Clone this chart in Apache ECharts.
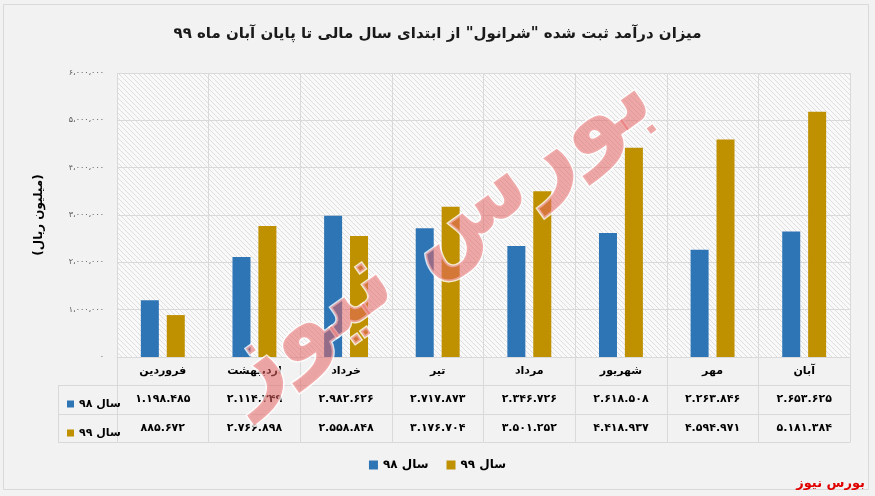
<!DOCTYPE html>
<html>
<head>
<meta charset="utf-8">
<script src="https://cdn.jsdelivr.net/npm/echarts@6/dist/echarts.min.js"></script>
<style>
html,body{margin:0;padding:0;background:#f2f2f2;}
#c{width:875px;height:496px;}
</style>
</head>
<body>
<div id="c"></div>
<script>
const title = 'میزان درآمد ثبت شده "شرانول" از ابتدای سال مالی تا پایان آبان ماه ۹۹';
const yName = '(میلیون ریال)';
const categories = ['فروردین','اردیبهشت','خرداد','تیر','مرداد','شهریور','مهر','آبان'];
const seriesNames = ['سال ۹۸','سال ۹۹'];
const s98 = [1198485, 2114349, 2982626, 2717873, 2346726, 2618508, 2263846, 2653625];
const s99 = [885672, 2766898, 2558848, 3176704, 3501252, 4418937, 4594971, 5181384];
const yTicks = {min: 0, max: 6000000, interval: 1000000};
const sourceText = 'بورس نیوز';
const watermarkText = 'بورس نیوز';

const FONT = 'Tahoma, "DejaVu Sans", sans-serif';
const fa = '۰۱۲۳۴۵۶۷۸۹';
function toFa(s){ return String(s).replace(/[0-9]/g, d => fa[+d]); }
function groupNum(n, sep){
  return toFa(String(n).replace(/\B(?=(\d{3})+(?!\d))/g, sep));
}

// diagonal hatch pattern
const P = 5;
const pc = document.createElement('canvas');
pc.width = P; pc.height = P;
const px = pc.getContext('2d');
px.fillStyle = '#f9f9f9'; px.fillRect(0,0,P,P);
px.fillStyle = '#dedede';
for (let i = 0; i < P; i++) px.fillRect(i, i, 1, 1);

const chart = echarts.init(document.getElementById('c'));
const lineColor = '#d9d9d9';
const hAxis = (off) => ({
  type: 'category', data: categories, position: 'bottom', offset: off,
  axisLine: {show: true, lineStyle: {color: lineColor}},
  axisTick: {show: false}, axisLabel: {show: false}, splitLine: {show: false}
});

chart.setOption({
  backgroundColor: '#f2f2f2',
  animation: false,
  textStyle: {fontFamily: FONT},
  title: {
    text: title, left: 'center', top: 22,
    textStyle: {fontFamily: FONT, fontSize: 15, fontWeight: 'bold', color: '#1a1a1a'}
  },
  grid: {
    left: 117, right: 25, top: 73, bottom: 139,
    show: true, borderWidth: 0,
    backgroundColor: {image: pc, repeat: 'repeat'}
  },
  legend: [
    {
      data: seriesNames, bottom: 20, left: 'center', itemGap: 18,
      itemWidth: 9, itemHeight: 9, icon: 'rect',
      textStyle: {fontFamily: FONT, fontSize: 12, fontWeight: 'bold', color: '#000'}
    },
    {
      data: seriesNames, orient: 'vertical', left: 62, top: 392, itemGap: 15,
      itemWidth: 7, itemHeight: 7, icon: 'rect', selectedMode: false,
      textStyle: {fontFamily: FONT, fontSize: 11, fontWeight: 'bold', color: '#000', lineHeight: 14}
    }
  ],
  xAxis: [
    {
      type: 'category', data: categories,
      axisLine: {show: true, lineStyle: {color: lineColor}},
      axisTick: {show: true, interval: 0, length: 85, lineStyle: {color: lineColor}},
      splitLine: {show: true, interval: 0, lineStyle: {color: lineColor}},
      axisLabel: {
        interval: 0, margin: 0,
        formatter: (v, i) => '{h|' + v + '}\n{v|' + groupNum(s98[i], '.') + '}\n{v|' + groupNum(s99[i], '.') + '}',
        rich: {
          h: {fontFamily: FONT, fontSize: 11, fontWeight: 'bold', color: '#000', lineHeight: 28, height: 28},
          v: {fontFamily: FONT, fontSize: 11, fontWeight: 'bold', color: '#000', lineHeight: 29, height: 29}
        }
      }
    },
    hAxis(28), hAxis(57), hAxis(85)
  ],
  yAxis: {
    type: 'value', min: yTicks.min, max: yTicks.max, interval: yTicks.interval,
    name: yName, nameLocation: 'middle', nameGap: 72, nameRotate: 90,
    nameTextStyle: {fontFamily: FONT, fontSize: 12, fontWeight: 'bold', color: '#000'},
    axisLine: {show: false}, axisTick: {show: false},
    axisLabel: {margin: 13, fontSize: 8, color: '#595959', formatter: v => groupNum(v, '،')},
    splitLine: {lineStyle: {color: lineColor}}
  },
  series: [
    {name: seriesNames[0], type: 'bar', data: s98, barWidth: 18, barGap: '44%', itemStyle: {color: '#2e75b6'}},
    {name: seriesNames[1], type: 'bar', data: s99, barWidth: 18, barGap: '44%', itemStyle: {color: '#bf9000'}}
  ],
  graphic: [
    {type: 'rect', shape: {x: 3.5, y: 4.5, width: 865, height: 485}, style: {fill: 'none', stroke: '#d9d9d9', lineWidth: 1}, z: -1, silent: true},
    {type: 'line', shape: {x1: 58, y1: 385.5, x2: 117, y2: 385.5}, style: {stroke: lineColor}},
    {type: 'line', shape: {x1: 58, y1: 414.5, x2: 117, y2: 414.5}, style: {stroke: lineColor}},
    {type: 'line', shape: {x1: 58, y1: 442.5, x2: 117, y2: 442.5}, style: {stroke: lineColor}},
    {type: 'line', shape: {x1: 58.5, y1: 385, x2: 58.5, y2: 443}, style: {stroke: lineColor}},
    {
      type: 'text', x: 436, y: 236, rotation: 0.62, z: 100, silent: true,
      style: {
        text: watermarkText, align: 'center', verticalAlign: 'middle',
        font: 'bold 96px ' + FONT, fill: 'rgba(230,100,100,0.55)',
        stroke: 'rgba(255,255,255,0.8)', lineWidth: 3
      }
    },
    {
      type: 'text', right: 10, bottom: 6,
      style: {text: sourceText, font: 'bold 13px ' + FONT, fill: '#e00000'}
    }
  ]
});
</script>
</body>
</html>
